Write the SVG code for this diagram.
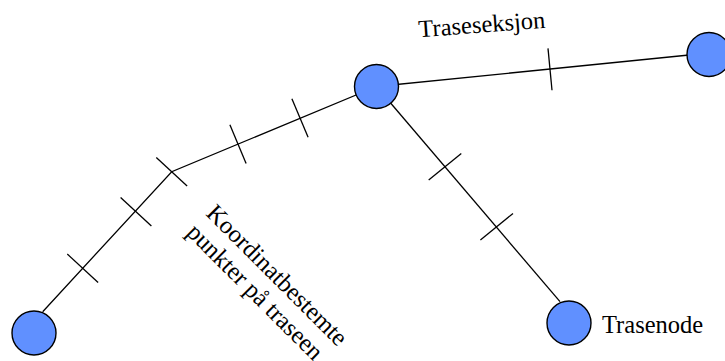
<svg xmlns="http://www.w3.org/2000/svg" width="725" height="361" viewBox="0 0 725 361">
<style>
.ln{stroke:#000;stroke-width:1.3;fill:none}
.nd{fill:#6090ff;stroke:#000;stroke-width:1.4}
.tx{font-family:"Liberation Serif","Times New Roman",serif;font-size:24.5px;fill:#000}
.rt{font-size:24.7px}
</style>
<rect width="725" height="361" fill="#fff"/>
<g id="connectors">
<polyline class="ln" points="42.7,311.7 171.7,171.7 376.5,86.5"/>
<line class="ln" x1="376.5" y1="86.5" x2="709" y2="53"/>
<line class="ln" x1="376.5" y1="86.5" x2="560" y2="301.7"/>
<line class="ln" x1="67.3" y1="254.1" x2="98.1" y2="282.5"/>
<line class="ln" x1="120.6" y1="197.5" x2="151.4" y2="225.9"/>
<line class="ln" x1="156.3" y1="157.5" x2="187.1" y2="185.9"/>
<line class="ln" x1="229.9" y1="124.8" x2="246.1" y2="163.4"/>
<line class="ln" x1="291.9" y1="98.7" x2="308.1" y2="137.3"/>
<line class="ln" x1="548" y1="48.4" x2="552" y2="90.2"/>
<line class="ln" x1="428.7" y1="180" x2="461.3" y2="153.4"/>
<line class="ln" x1="480.4" y1="240" x2="513" y2="213.4"/>
</g>
<g id="node-bottom-left"><circle class="nd" cx="34" cy="333" r="22"/></g>
<g id="node-middle"><circle class="nd" cx="376.5" cy="86.5" r="22"/></g>
<g id="node-right"><circle class="nd" cx="709" cy="54.5" r="22"/></g>
<g id="node-bottom"><circle class="nd" cx="569" cy="323" r="22"/><text class="tx" x="602" y="332.7">Trasenode</text></g>
<g id="label-seksjon"><text class="tx" transform="translate(419,37.3) rotate(-4.3)">Traseseksjon</text></g>
<g id="label-punkter"><text class="tx rt" transform="translate(205,214.5) rotate(45)">Koordinatbestemte</text><text class="tx rt" transform="translate(185.4,233.5) rotate(45)">punkter på traseen</text></g>
</svg>
